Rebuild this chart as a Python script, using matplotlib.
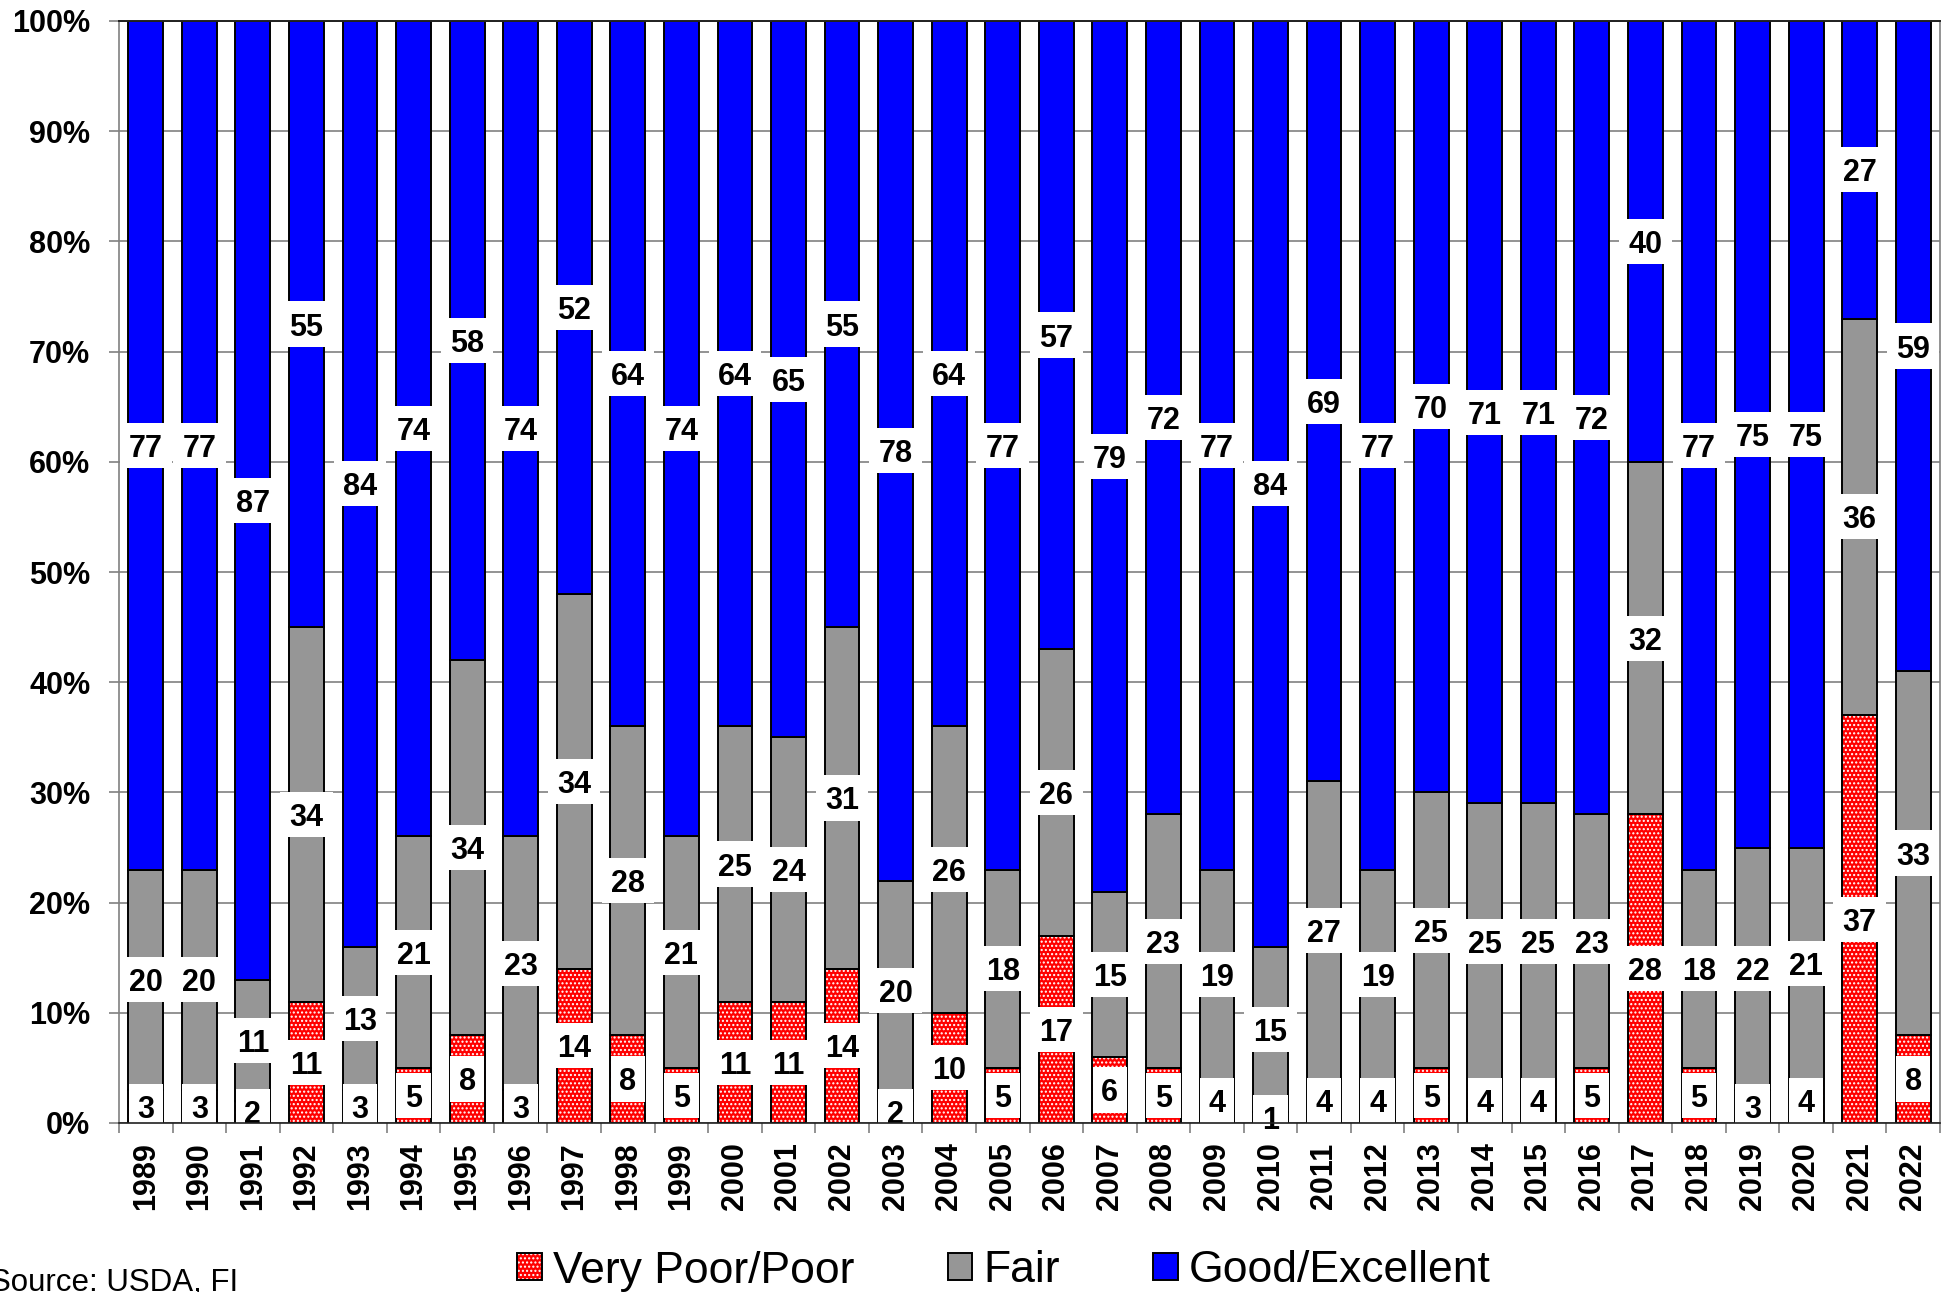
import matplotlib
matplotlib.use("Agg")
import matplotlib.pyplot as plt
import numpy as np
from matplotlib.legend_handler import HandlerTuple

plt.rcParams['font.family'] = ['Liberation Sans', 'DejaVu Sans']
plt.rcParams['hatch.linewidth'] = 1.0

years = [str(y) for y in range(1989, 2023)]
poor = [3, 3, 2, 11, 3, 5, 8, 3, 14, 8, 5, 11, 11, 14, 2, 10, 5, 17, 6, 5,
        4, 1, 4, 4, 5, 4, 4, 5, 28, 5, 3, 4, 37, 8]
fair = [20, 20, 11, 34, 13, 21, 34, 23, 34, 28, 21, 25, 24, 31, 20, 26, 18, 26, 15, 23,
        19, 15, 27, 19, 25, 25, 25, 23, 32, 18, 22, 21, 36, 33]
good = [77, 77, 87, 55, 84, 74, 58, 74, 52, 64, 74, 64, 65, 55, 78, 64, 77, 57, 79, 72,
        77, 84, 69, 77, 70, 71, 71, 72, 40, 77, 75, 75, 27, 59]
series_names = ["Very Poor/Poor", "Fair", "Good/Excellent"]
yticks = [0, 10, 20, 30, 40, 50, 60, 70, 80, 90, 100]

RED = "#FF0000"
GRAY = "#969696"
BLUE = "#0000FF"

W, H = 1952, 1292
fig = plt.figure(figsize=(W / 100, H / 100), dpi=100)
ax = fig.add_axes([119 / W, 1 - 1123 / H, (1940 - 119) / W, (1123 - 21) / H])

x = np.arange(len(years))
poor_a = np.array(poor, float)
fair_a = np.array(fair, float)
good_a = np.array(good, float)
bw = 0.65
lw = 1.4
FS = 22

# Very Poor/Poor: red with white dots
b_p_fill = ax.bar(x, poor_a, bw, color=RED, edgecolor="white", linewidth=0,
                  hatch="....", zorder=2)
b_p_edge = ax.bar(x, poor_a, bw, fill=False, edgecolor="black", linewidth=lw, zorder=2.1)
b_f = ax.bar(x, fair_a, bw, bottom=poor_a, color=GRAY, edgecolor="black", linewidth=lw, zorder=2)
b_g = ax.bar(x, good_a, bw, bottom=poor_a + fair_a, color=BLUE, edgecolor="black",
             linewidth=lw, zorder=2)

# value labels with white boxes
box_h = 4.1
for vals, bottoms in [(poor_a, np.zeros_like(poor_a)), (fair_a, poor_a), (good_a, poor_a + fair_a)]:
    centers = bottoms + vals / 2
    for xi, v, c in zip(x, vals, centers):
        s = f"{int(v)}"
        wbox = 0.64 if len(s) == 1 else 0.98
        ax.bar(xi, box_h, wbox, bottom=c - box_h / 2, color="white", linewidth=0, zorder=3)
        ax.text(xi, c, s, ha="center", va="center_baseline", fontsize=FS,
                fontweight="bold", zorder=4)

ax.set_xlim(-0.5, len(years) - 0.5)
ax.set_ylim(0, 100)
ax.set_yticks(yticks)
ax.set_yticklabels([f"{t}%" for t in yticks], fontsize=FS, fontweight="bold")
ax.set_xticks(x)
ax.set_xticklabels(years, rotation=90, fontsize=FS, fontweight="bold")
ax.set_xticks(np.arange(-0.5, len(years), 1.0), minor=True)
ax.tick_params(axis="x", which="major", length=0, pad=14)
ax.tick_params(axis="x", which="minor", length=7.2, width=1.2, color="#808080", direction="out")
ax.tick_params(axis="y", length=7.2, width=1.2, color="#808080", direction="out", pad=13.5)

ax.yaxis.grid(True, color="#808080", linewidth=1.2, zorder=0)
ax.set_axisbelow(True)
for side in ["left", "right"]:
    ax.spines[side].set_color("#808080")
    ax.spines[side].set_linewidth(1.2)
ax.spines["top"].set_color("#202020")
ax.spines["top"].set_linewidth(1.4)
ax.spines["bottom"].set_color("#202020")
ax.spines["bottom"].set_linewidth(1.2)
for sp in ax.spines.values():
    sp.set_zorder(5)

leg = fig.legend([(b_p_fill[0], b_p_edge[0]), b_f[0], b_g[0]], series_names,
                 handler_map={tuple: HandlerTuple(ndivide=1)},
                 loc="center", bbox_to_anchor=(1004 / W, 1 - 1271 / H), ncol=3,
                 frameon=False, fontsize=32, handlelength=0.55, handleheight=0.55,
                 handletextpad=0.25, columnspacing=2.1, borderpad=0, borderaxespad=0)

fig.text(-10 / W, 1 / H, "Source: USDA, FI", fontsize=22.5, ha="left", va="baseline")

fig.savefig("out.png", dpi=100)
